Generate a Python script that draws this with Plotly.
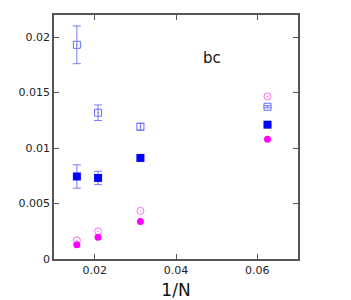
import plotly.graph_objects as go

x_n = [1/64, 1/48, 1/32, 1/16]

open_sq = [0.01931, 0.01319, 0.01193, 0.01373]
open_sq_err = [0.0017, 0.0007, 0.0003, 0.0001]
fill_sq = [0.00744, 0.00731, 0.00911, 0.01211]
fill_sq_err = [0.00105, 0.0006, 0.0002, 0.0001]
open_ci = [0.00168, 0.00249, 0.00434, 0.01466]
fill_ci = [0.00129, 0.00195, 0.00339, 0.01079]

x_ticks = [0.02, 0.04, 0.06]
x_tick_labels = ["0.02", "0.04", "0.06"]
y_ticks = [0, 0.005, 0.01, 0.015, 0.02]
y_tick_labels = ["0", "0.005", "0.01", "0.015", "0.02"]

fig = go.Figure()
fig.add_trace(go.Scatter(
    x=x_n, y=open_sq, mode="markers",
    error_y=dict(type="data", array=open_sq_err, color="#7a7aff", thickness=1, width=4),
    marker=dict(symbol="square-open-dot", size=7, color="#6a6aff", line=dict(width=1))))
fig.add_trace(go.Scatter(
    x=x_n, y=fill_sq, mode="markers",
    error_y=dict(type="data", array=fill_sq_err, color="#7a7aff", thickness=1, width=4),
    marker=dict(symbol="square", size=8, color="#0000ff")))
fig.add_trace(go.Scatter(
    x=x_n, y=open_ci, mode="markers",
    marker=dict(symbol="circle-open-dot", size=7, color="#ff66ff", line=dict(width=1))))
fig.add_trace(go.Scatter(
    x=x_n, y=fill_ci, mode="markers",
    marker=dict(symbol="circle", size=7, color="#ff00ff")))

axis_common = dict(showgrid=False, zeroline=False, showline=True, linecolor="#555555",
                   linewidth=1.5, mirror="ticks", ticks="inside", ticklen=5, automargin=False,
                   tickcolor="#555555", tickfont=dict(family="DejaVu Sans", size=11, color="#222"))
fig.update_xaxes(range=[0.01, 0.07], tickvals=x_ticks, ticktext=x_tick_labels,
                 title=dict(text="1/N", font=dict(family="DejaVu Sans", size=17, color="#111"), standoff=10),
                 **axis_common)
fig.update_yaxes(range=[0, 0.022], tickvals=y_ticks, ticktext=y_tick_labels, **axis_common)

fig.add_annotation(x=0.0488, y=0.0181, xref="x", yref="y", text="bc", showarrow=False,
                   font=dict(family="DejaVu Sans", size=15, color="#111"))

fig.update_layout(width=343, height=292, margin=dict(l=46, r=53, t=7, b=41),
                  plot_bgcolor="white", paper_bgcolor="white", showlegend=False)
fig.write_html("out.html")
